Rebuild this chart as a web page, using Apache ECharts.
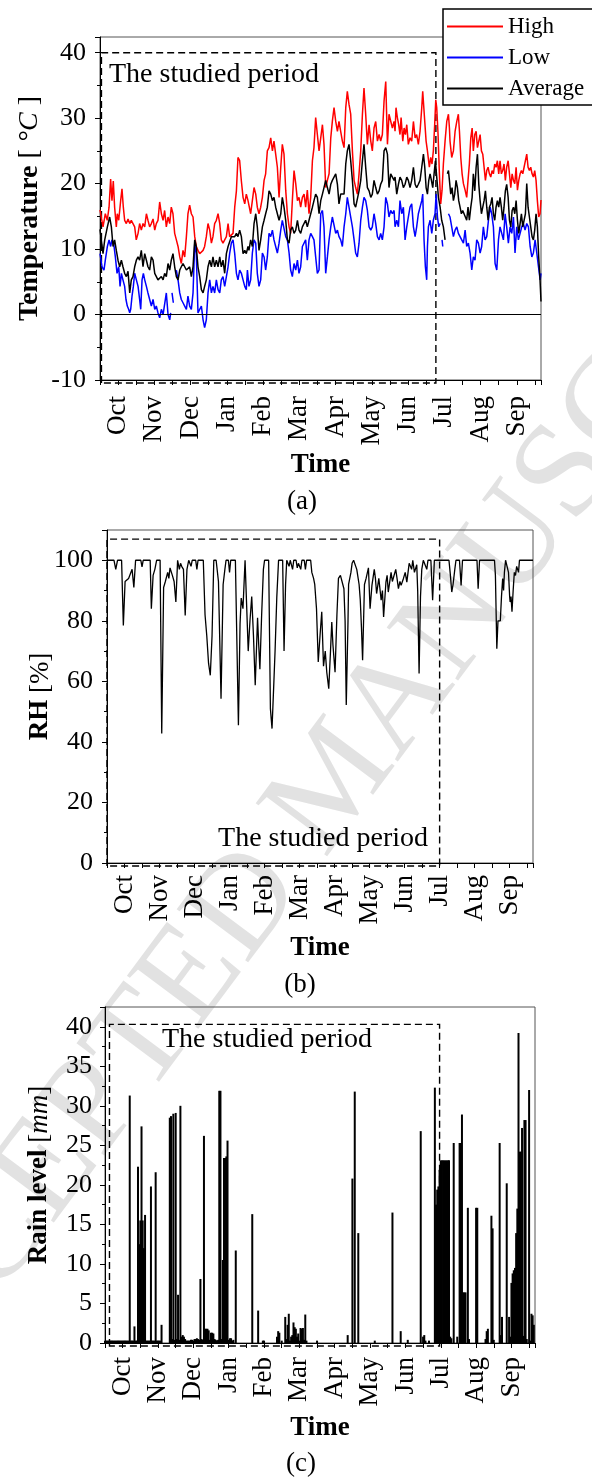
<!DOCTYPE html>
<html>
<head>
<meta charset="utf-8">
<script src="https://cdn.jsdelivr.net/npm/echarts/dist/echarts.min.js"></script>
<style>
html,body{margin:0;padding:0;background:#fff;}
#chart{width:592px;height:1478px;}
</style>
</head>
<body>
<div id="chart"></div>
<script>
// Month labels, placed mid-month on a day-of-year axis starting 1 October
const months = ['Oct','Nov','Dec','Jan','Feb','Mar','Apr','May','Jun','Jul','Aug','Sep'];

// Daily high temperature [day, °C]
const highTemp = [[0,16],[0.6,15.9],[2.5,13.4],[4.4,15.4],[6,14.4],[7.5,16.4],[8.8,20.7],[9.9,17.4],[11,20.4],[12.1,16.4],[13.5,13.4],[14.3,15.4],[15.5,14.4],[17.1,17.4],[18.2,19.2],[19.3,16.4],[20.4,14.4],[21.8,13.9],[23.2,14.6],[24.6,13.9],[25.9,14.4],[27.3,14.1],[28.7,13.4],[30,11.4],[31.5,12.4],[32.8,13.9],[34.2,12.9],[35.6,13.9],[37,13.4],[38.4,15.4],[39.7,14.4],[41.1,13.4],[42.5,13.9],[43.9,14.6],[45.3,12.9],[46.6,13.9],[48,14.4],[49.4,17.2],[50.8,15.4],[52.2,14.4],[53.5,15.9],[54.9,13.4],[56.3,14.9],[57.7,13.9],[59,16.4],[60.4,15.4],[61.8,12.4],[63.2,11.4],[64.6,10.4],[66,8.8],[67.3,7.8],[68.7,9.8],[70.1,8.8],[71.5,11.9],[72.8,15.4],[74.2,16.7],[75.6,15.4],[77,14.9],[78.4,11.9],[79.7,10.4],[81.1,9.8],[82.5,9.3],[83.9,9.3],[85.3,9.8],[86.6,10.4],[88,11.9],[89.4,13.9],[90.8,12.9],[92.2,10.9],[93.5,11.9],[94.9,13.9],[96.3,14.4],[97.7,15.4],[99.1,13.9],[100.4,11.4],[101.8,10.9],[103.2,10.9],[104.6,11.9],[106,13.9],[107.3,11.9],[108.7,11.9],[110.1,12.4],[111.5,16.4],[112.9,18.9],[114.2,24],[115.6,23.5],[117,20.4],[118.4,17.9],[119.8,16.9],[121.1,18.4],[122.5,17.4],
[123.3,17.4],[124.7,15.4],[126.1,17.4],[127.5,19.4],[128.9,18.4],[130.2,16.4],[131.6,15.4],[133,16.4],[134.4,17.9],[135.8,20.5],[137.1,21.5],[138.5,25],[139.9,25.5],[141.3,27],[142.7,25],[144,26.5],[145.4,24.5],[146.8,22.5],[148.2,17.9],[149.6,22.5],[150.9,26],[152.3,24.5],[153.7,19],[155.1,15.4],[156.5,13.4],[157.8,12.4],[159.2,17.4],[160.6,22],[162,20],[163.4,17.4],[164.7,17.9],[166.1,16.4],[167.5,17.9],[168.9,18.4],[170.2,16.4],[171.6,19],[173,15.4],[174.4,17.9],[175.8,23.5],[177.1,25.5],[178.5,30.1],[179.9,27.5],[181.3,25],[182.7,27],[184.1,29],[185.4,26],[186.8,19.4],[188.2,20.5],[189.6,21.5],[191,27],[192.3,29.5],[193.7,31.6],[195.1,29.5],[196.5,28],[197.8,29.5],[199.2,28],[200.6,26.5],[202,25.5],[203.4,31.6],[204.7,34.1],[206.1,32.1],[207.5,30.6],[208.9,25],[210.3,20.5],[211.6,19.4],[213,18.4],[214.4,21.5],[215.8,25],[217.2,30.6],[218.5,34.6],[219.9,30.6],[221.3,26],[222.7,29],[224.1,26.5],[225.4,25],[226.8,28.5],[228.2,29.5],[229.6,26.5],[231,27.5],[232.3,26.5],[233.7,27.5],[235.1,32.6],[236.5,35.6],[237.9,26],[239.2,30.6],[240.6,30.6],[242,28.5],[243.4,29.5],
[244.2,28],[245,31.6],[246.1,30.1],[247.2,29],[248.3,27.5],[249.2,30.1],[250.6,26.5],[251.7,28.5],[252.8,27.5],[253.9,29],[255.2,26],[256.6,27],[258,26.5],[259.4,29.5],[260.8,27],[262.1,27.5],[263.5,26],[264.9,28],[266.3,31.6],[267.1,34.1],[268.2,31.1],[269.9,26.5],[271,25],[272.6,22.5],[273.7,24],[274.8,23],[275.9,25],[277,29],[277.9,32.8],[278.7,31.6],[279.8,27.5],[280.9,21.5],[282,16.9],[283.1,19],[284.2,23],[285.6,26.5],[287,29.5],[288.4,30.6],[289.2,28.5],[289.7,26.5],[291.1,24],[292.5,25],[293.9,28],[295.3,29.5],[296.6,30.6],[297.5,28],[298.6,24],[299.7,21.5],[300.8,20],[302.2,19],[303.5,17.9],[304.6,20.5],[305.7,23],[306.9,27],[308,28.5],[309,25],[310.2,27.5],[311.3,28],[312.4,25.5],[313.5,26.5],[314.6,27.5],[315.7,25],[316.8,24.5],[317.9,22.5],[319,20.5],[320.1,22],[321.2,22.5],[322.3,21.5],[323.4,21],[324.5,22],[325.6,21.5],[326.7,23],[327.8,22.5],[328.9,23.5],[330,21.5],[331.1,23.5],[332.2,21.5],[333.3,22],[334.4,23],[335.5,20.5],[336.6,22.5],[337.8,23.5],[338.9,21.5],[340,19.4],[341.1,21.5],[342.2,20.5],[343.3,20],[344.4,22.5],[345.5,19],[346.6,20.5],[347.7,21.5],[348.8,22],[349.9,21.5],[351,22.5],[352.1,23.5],[353.2,24.5],[354.3,22.5],[355.4,22],[356.5,22.5],[357.6,21.5],[358.7,21],[359.8,22],[360.9,20.5],[362,17.4],[363.1,14.9],[364.2,15.4],[365,17.5]];

// Daily low temperature [day, °C]; null marks missing records
const lowTemp = [[0,9.3],[1.7,7.3],[3.3,6.8],[4.4,8.3],[6.1,10.4],[7.5,11.4],[8.8,10.4],[9.9,11.4],[11.3,10.9],[12.7,8.8],[14.1,6.3],[15.5,7.3],[16.6,4.3],[17.7,6.3],[19,5.3],[20.4,4.3],[21.5,2.3],[22.6,1.3],[23.7,0.8],[24.6,0.25],[25.4,0.8],[26.5,2.8],[27.6,4.3],[28.7,6.3],[30.1,5.3],[31.5,4.3],[32.8,2.3],[33.7,0.8],[34.8,5.3],[35.9,6.3],[37,5.3],[38.4,4.3],[39.7,3.3],[41.1,2.3],[42.5,1.3],[43.9,2.3],[45.3,0.8],[46.6,1.3],[48,0.25],[49.4,-0.5],[50.8,0.8],[52.2,0],[53.5,0.25],[54.9,3.3],[56.3,0],[57.7,-0.8],[58.5,0.25],[59,null],[59.6,3.3],[60.7,1.8],[62,null],[63.2,6.8],[64.6,5.3],[66,3.3],[67.3,2.3],[68.7,1.8],[70.1,1.3],[71.5,0.8],[72.8,2.8],[74.2,1.3],[75.6,0.8],[77,3.3],[78.4,10.9],[79.7,9.3],[81.1,0.25],[82.5,0],[83.9,1.3],[85.3,-0.8],[86.6,-2],[88,-0.8],[89.4,3.3],[90.8,5.3],[92.2,3.3],[93.5,4.3],[94.9,3.3],[96.3,5.3],[97.7,3.8],[99.1,3.3],[100.4,5.3],[101.8,5.8],[103.2,4.3],[104.6,5.8],[106,7.3],[107.3,9.3],[108.7,10.9],[110.1,11.4],[111.5,9.3],[112.9,6.3],[114.2,5.3],[115.6,6.8],[117,6.3],[118.4,5.3],[119.8,4.3],[121.1,3.8],
[122,6.8],[123.3,4.3],[124.7,5.3],[126.1,9.4],[127.5,11.4],[128.9,10.9],[130.2,6.3],[131.6,4.3],[133,5.3],[134.4,9.4],[135.8,8.8],[137.1,6.8],[138.5,8.8],[139.9,12.4],[141.3,11.9],[142.7,12.9],[144,11.4],[145.4,10.4],[146.8,9.4],[148.2,10.9],[149.6,12.9],[150.9,14.4],[152.3,14.4],[153.7,11.9],[155.1,11.4],[156.5,9.4],[157.8,6.8],[159.2,5.8],[160.6,7.8],[162,6.8],[163.4,8.3],[164.7,6.3],[166.1,7.3],[167.5,10.4],[168.9,10.4],[170.2,11.4],[171.6,8.3],[173,11.4],[174.4,12.4],[175.8,11.9],[177.1,11.4],[178.5,8.8],[179.9,6.3],[181.3,6.8],[182.7,15.4],[184.1,15.9],[185.4,13.4],[186.8,6.3],[188.2,8.8],[189.6,11.4],[191,13.4],[192.3,14.9],[193.7,14.9],[195.1,12.4],[196.5,12.9],[197.8,11.9],[199.2,11.4],[200.6,10.4],[202,13.4],[203.4,15.4],[204.7,17.9],[206.1,17.9],[207.5,14.9],[208.9,13.4],[210.3,11.4],[211.6,9.4],[213,8.8],[214.4,10.9],[215.8,14.4],[217.2,16.4],[218.5,17.9],[219.9,17.4],[221.3,15.9],[222.7,13.4],[224.1,12.9],[225.4,13.4],[226.8,15.4],[228.2,13.9],[229.6,11.9],[231,11.4],[232.3,12.4],[233.7,11.4],[235.1,13.4],[236.5,17.9],[237.9,16.9],[239.2,14.9],[240.6,15.9],[242,15.4],[243.4,15.9],
[244.2,13.4],[245.6,14.4],[247,13.4],[248.3,17.4],[249.7,15.4],[251.1,16.4],[252.5,11.4],[253.9,13.4],[255.2,14.9],[256.6,16.4],[258,16.9],[259.4,13.4],[260.8,11.9],[262.1,13.4],[263.5,15.4],[264.9,16.4],[266.3,17.4],[267.1,18.4],[268.2,11.4],[269.3,7.3],[270.4,5.3],[271,10.4],[271.8,13.4],[273.2,14.4],[274.6,12.4],[275.9,14.4],[277.3,15.4],[278.2,18.4],[279.3,14.9],[280.4,13.4],[281.5,13.9],[282.3,null],[283.1,11.4],[283.7,10.4],[285,null],[288.4,15.4],[289.7,14.9],[291.1,13.4],[292.5,11.9],[293.9,12.9],[295.3,13.4],[296.6,12.4],[298,11.9],[299.4,11.4],[300.8,10.9],[302.2,12.9],[303.5,10.4],[304.9,10.9],[306.3,9.4],[307.7,6.8],[309,8.8],[310.4,8.3],[311.8,11.4],[313.2,10.9],[314.6,9.4],[315.9,10.4],[317.3,13.4],[318.7,11.4],[320.1,11.9],[321.5,14.4],[322.9,16.4],[324.2,15.4],[325.6,13.4],[327,7.8],[328.4,6.8],[329.8,11.4],[331.1,13.4],[332.5,12.4],[333.9,11.4],[335.3,15.4],[336.6,13.4],[338,10.9],[339.4,13.4],[340.8,12.4],[342.2,14.9],[343.5,9.4],[344.9,13.4],[346.3,11.4],[347.7,12.4],[349.1,13.4],[350.4,13.9],[351.8,12.9],[353.2,13.9],[354.6,13.4],[356,10.4],[357.4,8.8],[358.7,9.4],[360.1,11.4],[361.5,9.4],[362.9,7.3],[364.3,5.3],[365,6.3]];

// Daily average temperature [day, °C]
const avgTemp = [[0,13],[2.5,9.3],[3.9,11.4],[6.1,13.4],[8,14.9],[9.4,13.4],[10.8,10.4],[12.1,11.4],[13.5,9.8],[14.9,8.3],[16.3,7.3],[17.7,8.3],[19,7.3],[20.4,6.3],[21.8,5.8],[23.2,6.6],[24.6,3.3],[25.9,5.3],[27.3,5.8],[28.7,7.3],[30.1,8.3],[31.5,8.8],[32.8,8.3],[34.2,9.8],[35.6,7.3],[37,9.3],[38.4,8.3],[39.7,7.3],[41.1,6.8],[42.5,8.8],[43.9,8.3],[45.3,6.3],[46.6,6.3],[48,5.3],[49.4,5.3],[50.8,5.8],[52.2,5.3],[53.5,6.3],[54.9,5.8],[56.3,7.8],[57.7,6.8],[59,8.3],[60.4,9.3],[61.8,7.3],[63.2,5.8],[64.6,5.3],[66,6.8],[67.3,7.3],[68.7,7.8],[70.1,7.8],[71.5,6.8],[72.8,6.8],[74.2,7.3],[75.6,5.8],[77,7.3],[78.4,11.4],[79.7,10.4],[81.1,7.3],[82.5,5.8],[83.9,3.8],[85.3,3.3],[86.6,4.3],[88,5.3],[89.4,7.3],[90.8,8.3],[92.2,7.3],[93.5,8.8],[94.9,7.3],[96.3,8.3],[97.7,7.3],[99.1,8.8],[100.4,7.3],[101.8,8.3],[103.2,6.3],[104.6,9.3],[106,10.4],[107.3,10.4],[108.7,11.9],[110.1,11.9],[111.5,11.9],[112.9,12.4],[114.2,11.9],[115.6,12.9],[117,11.9],[118.4,9.3],[119.8,9.8],[121.1,9.3],[122.5,10.4],
[123.3,9.8],[124.7,11.4],[126.1,10.4],[127.5,13.9],[128.9,15.4],[130.2,13.4],[131.6,9.8],[133,11.4],[134.4,13.4],[135.8,14.4],[137.1,15.4],[138.5,16.4],[139.9,18.9],[141.3,18.4],[142.7,17.4],[144,17.9],[145.4,16.4],[146.8,15.4],[148.2,14.4],[149.6,15.4],[150.9,17.9],[152.3,16.4],[153.7,14.4],[155.1,11.4],[156.5,10.9],[157.8,12.9],[159.2,13.4],[160.6,12.4],[162,12.9],[163.4,14.4],[164.7,12.9],[166.1,12.4],[167.5,13.4],[168.9,13.4],[170.2,14.4],[171.6,13.4],[173,14.4],[174.4,15.4],[175.8,16.4],[177.1,17.4],[178.5,18.4],[179.9,17.9],[181.3,15.4],[182.7,17.4],[184.1,18.4],[185.4,19.4],[186.8,20.5],[188.2,19.4],[189.6,18.4],[191,19.9],[192.3,20.5],[193.7,21],[195.1,21.5],[196.5,19.9],[197.8,16.9],[199.2,18.4],[200.6,18.4],[202,18.4],[203.4,23],[204.7,25],[206.1,26],[207.5,23.5],[208.9,20.5],[210.3,16.9],[211.6,16.4],[213,16.4],[214.4,18.9],[215.8,20.5],[217.2,23.5],[218.5,26],[219.9,22.5],[221.3,19.4],[222.7,18.9],[224.1,17.9],[225.4,18.4],[226.8,20.5],[228.2,19.4],[229.6,18.4],[231,18.9],[232.3,19.9],[233.7,20.5],[235.1,25],[236.5,25.5],[237.9,24.5],[239.2,19.4],[240.6,21.5],[242,21],[243.4,20.5],
[244.2,21],[245.6,18.4],[247,19.9],[248.3,21],[249.7,20.5],[251.1,19.4],[252.5,19.9],[253.9,21],[255.2,20.5],[256.6,19.4],[258,20.5],[259.4,22.5],[260.8,19.9],[262.1,19.4],[263.5,19.9],[264.9,20.5],[266.3,22.5],[267.7,24.5],[268.8,22.5],[269.9,19.4],[271,18.4],[272.1,20.5],[273.2,21.5],[274.3,20.5],[275.4,19.4],[276.5,21.5],[277.6,23.5],[278.7,21],[280.1,17.9],[281.5,16.4],[282.8,14.4],[284.2,13.4],[285.6,11.4],[286.5,null],[287.5,21.5],[288.4,22],[289.2,20.5],[290.3,18.4],[291.4,19.4],[292.5,17.4],[293.6,18.4],[294.7,20.5],[295.8,19.4],[296.9,17.4],[298,16.4],[299.1,15.4],[300.2,15.9],[301.3,15.4],[302.4,14.9],[303.5,14.4],[304.6,16.4],[305.7,14.4],[306.9,16.4],[308,17.9],[309,21.5],[310.2,18.9],[311.3,22.5],[312.4,24.5],[313.5,19.9],[314.6,17.4],[315.7,15.4],[316.8,16.4],[317.9,17.4],[319,18.9],[320.1,16.4],[321.2,14.4],[322.3,16.4],[323.4,16.9],[324.5,17.9],[325.6,15.4],[326.7,14.4],[327.8,16.4],[328.9,17.4],[330,16.4],[331.1,17.9],[332.2,16.4],[333.3,14.4],[334.4,16.4],[335.5,18.9],[336.6,19.9],[337.8,17.9],[338.9,14.4],[340,13.4],[341.1,15.9],[342.2,16.4],[343.3,15.4],[344.4,17.4],[345.5,14.4],[346.6,12.4],[347.7,13.9],[348.8,15.4],[349.9,13.4],[351,13.4],[352.1,15.4],[353.2,20],[354.3,16.4],[355.4,14.9],[356.5,13.4],[357.6,11.9],[358.7,11.4],[359.8,12.9],[360.9,15.4],[362,13.4],[363.1,8.8],[364.2,5.3],[365,2]];

// Daily relative humidity [day, %]
const relHumidity = [[0,100],[6,100],[7.5,97],[9,100],[12.5,100],[14,78.5],[15.5,93],[17,92.5],[18.5,94],[20,93.5],[21.5,97],[23,91],[24.5,100],[29,100],[30,97.8],[31,100],[37,100],[38,84],[39.5,95],[41,97],[42.5,100],[45.5,100],[46.9,42.8],[48.5,91],[50,93],[52,96],[53,94],[54,97.5],[56,95],[57.5,93],[59,86.2],[60.5,100],[62,97],[63,99],[64,98],[65.5,97],[67,81.8],[68.5,97],[70,100],[72,98],[73,100],[76,100],[77,97],[78,100],[82.5,100],[84,82],[85.5,75],[87,66],[88.5,62],[90,75],[91.5,100],[93.5,100],[95.5,93],[97.7,54.3],[99.5,92],[101,97],[102,100],[104,100],[105,96],[106,100],[110,100],[112.6,45.5],[114,79],[115,87.5],[116.5,84],[118.3,100],[119.5,100],[121,70],[122.5,80],[124,88],[125.5,75],[127,58.7],[129,81],[130,72],[131,64],[132.5,82],[134,97],[135,100],[138.5,100],[140,51],[141.4,44.4],[143,60],[144,70],[145.5,88],[147,100],[150.5,100],[151.7,70],[153,92],[154,100],[156,98],[157,100],[159,97],[160,100],[162,100],[163,97.5],[164,99],[166,97],[167,100],[169,100],[170,97],[171,100],[174.5,100],[175.5,96],[177,94],[178,92],[179.5,84],[181,66.4],[182.5,75],[184,83],[185.5,65],[187,70],[188.3,63],[190,57.6],[191.5,70],[192.6,79.6],[193.6,72],[195.4,63],[197,82],[198.3,94],[200,95],[201,94.5],[203,90.6],[204,80],[205,52.2],[206.5,80],[207,92],[209,96],[210,99],[211.3,100],[213,100],[214,97],[216,92],[217,87],[218,78],[219,67],[220.6,92],[222,94],[224,97.5],[225.4,84],[227,91.7],[229,97],[230,94],[231,89],[232.9,94],[234.9,86.8],[236,90],[237,81.3],[239,92.8],[240,95],[241,89.5],[243.4,96],[244.5,93],[245.4,92.8],[247.4,97],[248.5,94],[249.7,90.6],[251,93],[252,91.7],[254,94],[255.5,96],[256.9,92.8],[258.9,99],[261,97],[262,100],[263.4,96],[265.4,98.5],[266.2,90],[267.4,62.6],[268.6,88],[269.7,97],[271,100],[272,100],[274,97],[275,100],[277.5,100],[279,86.8],[280.5,100],[293,100],[294,96],[295.4,89.5],[296.5,92],[298,97],[299,100],[302,100],[303.4,91.7],[304.6,100],[317,100],[318,90.6],[319.2,100],[332,100],[332.8,95],[334,70.8],[335,80],[337,80],[338,88],[339,94],[339.8,90],[340.5,96],[341.5,100],[343,100],[344,96],[345,88],[345.4,86.2],[346.2,88],[347,83],[348,90],[349,96],[350,95],[351,98],[352.6,96],[353.4,100],[365,100]];

// Daily rain level [day, mm]
const rainLevel = [[0,0.3],[1,0.3],[2,0.3],[3,0.3],[4,0.3],[5,0.3],[6,0.3],[7,0.3],[8,0.3],[9,0.3],[10,0.3],[11,0.3],[12,0.3],[13,0.3],[14,0.3],[15,0.3],[16,0.3],[17,0.3],[18,0.3],[19,0.3],[20,0.3],[21,31.3],[22,0.3],[23,0.3],[24,0.3],[25,2.1],[26,0.3],[27,0.3],[28,22.3],[29,12.5],[30,15.5],[31,27.4],[32,15.5],[33,12],[34,16.2],[35,0.3],[36,0.3],[37,0.3],[38,0.3],[39,19.8],[40,0.3],[41,0.3],[42,0.3],[43,21.6],[44,0.3],[45,0.3],[46,0.3],[47,0.3],[48,2.3],[55,28.5],[56,28.7],[57,0.5],[58,29],[59,0.4],[60,29.1],[61,0.5],[62,6.1],[63,0.4],[64,30],[65,0.8],[66,1],[67,0.8],[68,0.5],[69,0.3],[70,0.3],[71,0.3],[72,0.3],[73,0.4],[74,0.4],[75,0.3],[76,0.5],[77,0.5],[78,0.6],[79,0.5],[80,0.4],[81,8.1],[82,0.5],[83,0.4],[84,26.2],[85,1.8],[86,1.8],[87,1.8],[88,1.6],[89,0.4],[90,1.3],[91,1.3],[92,1.2],[93,0.5],[94,0.4],[95,0.3],[96,0.4],[97,31.9],[98,31.9],[99,0.5],[100,10.5],[101,23.4],[102,23.4],[103,23.6],[104,25.6],[105,0.4],[106,0.6],[107,0.6],[108,0.3],[109,0.4],[111,11.7],[125,16.3],[130,4.1],[134,0.3],[135,0.3],[146,0.8],[147,1.5],[148,1.3],[150,0.3],[153,3.3],[154,0.5],[155,2.3],[156,3.7],[157,0.3],[158,0.8],[159,1],[160,2.6],[161,2],[162,1.8],[163,0.8],[164,1.2],[165,0.3],[166,1.9],[167,1.8],[168,1.9],[169,0.4],[170,3.6],[171,0.3],[180,0.3],[206,1],[210,20.8],[212,31.8],[215,13.9],[229,0.3],[244,16.5],[251,1.5],[257,0.4],[268,26.8],[270,0.8],[271,1],[272,0.3],[275,0.3],[280,32.3],[281,17.5],[282,19.4],[283,19.8],[284,21.9],[285,23.1],[286,23.1],[287,23.1],[288,23.1],[289,23.1],[290,23.1],[291,23.1],[292,23.1],[293,0.8],[294,0.6],[296,25.3],[299,0.8],[301,25.3],[302,25.3],[303,28.9],[304,6.4],[305,6.4],[306,6.4],[308,17.1],[309,0.5],[315,17.1],[316,17.1],[323,0.5],[324,1.5],[325,1.8],[328,16.1],[329,14.5],[330,0.4],[335,25.3],[336,1],[337,3.3],[341,20.2],[343,3.3],[344,0.8],[345,7.6],[346,8.8],[347,9.2],[348,9.5],[349,13.9],[350,17],[351,39.2],[352,24.2],[353,24.2],[354,27.2],[355,0.9],[356,28.2],[357,28.2],[358,0.5],[360,32],[361,0.3],[362,3.7],[363,3.5],[364,2.3]];

// Studied period boxes per panel: [start day, end day, top value]
const studiedPeriod = [[1.2, 278, 40], [0, 285, 107], [3.8, 284, 40.3]];

const FONT = '"Liberation Serif", "Times New Roman", serif';
const BLACK = '#000';

function xAxisFor(gridIndex, labelMargin) {
  return {
    type: 'value', gridIndex, min: 0, max: 365, interval: 15,
    axisLine: { show: true, onZero: false, lineStyle: { color: BLACK, width: 1 } },
    axisTick: { show: true, length: 5, lineStyle: { color: BLACK, width: 1 } },
    axisLabel: {
      rotate: 90, margin: labelMargin, fontFamily: FONT, fontSize: 27, color: BLACK,
      formatter: v => (v % 30 === 15 ? months[(v - 15) / 30] : '')
    },
    splitLine: { show: false },
    name: 'Time', nameLocation: 'middle', nameGap: 72,
    nameTextStyle: { fontFamily: FONT, fontSize: 27, fontWeight: 'bold', color: BLACK }
  };
}

function yAxisFor(gridIndex, min, max, interval, name, nameGap, labelMargin, nameSize) {
  const base = { fontFamily: FONT, fontSize: nameSize, color: BLACK };
  return {
    type: 'value', gridIndex, min, max, interval,
    axisLine: { show: true, onZero: false, lineStyle: { color: BLACK, width: 1 } },
    axisTick: { show: true, length: 5, lineStyle: { color: BLACK, width: 1 } },
    minorTick: { show: true, splitNumber: 2, length: 3, lineStyle: { color: BLACK, width: 1 } },
    axisLabel: {
      margin: labelMargin, fontFamily: FONT, fontSize: 26, color: BLACK,
      formatter: v => (Math.abs(v % interval) < 1e-9 ? String(v) : '')
    },
    splitLine: { show: false },
    minorSplitLine: { show: false },
    name, nameLocation: 'middle', nameGap, nameRotate: 90, nameMoveOverlap: false,
    nameTextStyle: Object.assign({}, base, {
      rich: {
        b: Object.assign({}, base, { fontWeight: 'bold' }),
        n: Object.assign({}, base),
        i: Object.assign({}, base, { fontStyle: 'italic' })
      }
    })
  };
}

const gridStyle = { show: true, borderColor: '#555', borderWidth: 1, backgroundColor: 'transparent' };

const option = {
  animation: false,
  backgroundColor: '#fff',
  grid: [
    Object.assign({ left: 100, top: 37, width: 441, height: 343 }, gridStyle),
    Object.assign({ left: 107, top: 530, width: 426, height: 333 }, gridStyle),
    Object.assign({ left: 105, top: 1007, width: 430, height: 336 }, gridStyle)
  ],
  xAxis: [xAxisFor(0, 16), xAxisFor(1, 12), xAxisFor(2, 14)],
  yAxis: [
    yAxisFor(0, -10, 42.4, 10, '{b|Temperature} {n|[ }{i|°C}{n| ]}', 56, 14, 28),
    yAxisFor(1, 0, 110, 20, '{b|RH} {n|[%]}', 53, 14, 27),
    yAxisFor(2, 0, 42.5, 5, '{b|Rain level} {n|[}{i|mm}{n|]}', 52, 13, 27)
  ],
  legend: {
    orient: 'vertical', left: 443, top: 9,
    data: ['High', 'Low', 'Average'],
    icon: 'rect', itemWidth: 56, itemHeight: 2, itemGap: 6,
    padding: [5, 12, 4, 4],
    borderColor: BLACK, borderWidth: 1.5, backgroundColor: '#fff',
    textStyle: { fontFamily: FONT, fontSize: 23, color: BLACK, lineHeight: 25 }
  },
  series: [
    {
      name: 'High', type: 'line', xAxisIndex: 0, yAxisIndex: 0, data: highTemp,
      symbol: 'none', lineStyle: { color: '#ff0000', width: 1.5 }, itemStyle: { color: '#ff0000' }
    },
    {
      name: 'Low', type: 'line', xAxisIndex: 0, yAxisIndex: 0, data: lowTemp,
      symbol: 'none', lineStyle: { color: '#0000ff', width: 1.5 }, itemStyle: { color: '#0000ff' }
    },
    {
      name: 'Average', type: 'line', xAxisIndex: 0, yAxisIndex: 0, data: avgTemp,
      symbol: 'none', lineStyle: { color: BLACK, width: 1.5 }, itemStyle: { color: BLACK },
      markLine: {
        silent: true, animation: false, symbol: ['none', 'none'], label: { show: false },
        lineStyle: { color: BLACK, width: 1, type: 'solid' },
        data: [{ yAxis: 0 }]
      }
    },
    {
      name: 'RH', type: 'line', xAxisIndex: 1, yAxisIndex: 1, data: relHumidity,
      symbol: 'none', lineStyle: { color: BLACK, width: 1.3 }, itemStyle: { color: BLACK }
    },
    {
      name: 'Rain', type: 'bar', xAxisIndex: 2, yAxisIndex: 2, data: rainLevel,
      barWidth: 2, itemStyle: { color: BLACK }
    }
  ]
};

const chart = echarts.init(document.getElementById('chart'), null, { renderer: 'canvas' });
chart.setOption(option);

// Dashed "studied period" frames, placed through each grid's own scales
const yMins = [-10, 0, 0];
const graphics = [];
studiedPeriod.forEach(([d0, d1, top], g) => {
  const pTopLeft = chart.convertToPixel({ gridIndex: g }, [d0, top]);
  const pBottomRight = chart.convertToPixel({ gridIndex: g }, [d1, yMins[g]]);
  const xl = pTopLeft[0], yt = pTopLeft[1], xr = pBottomRight[0], yb = pBottomRight[1] + 3;
  graphics.push({
    type: 'polygon', z: 3, silent: true,
    shape: { points: [[xl, yb], [xl, yt], [xr, yt], [xr, yb]] },
    style: { fill: null, stroke: BLACK, lineWidth: 1.4, lineDash: [7, 4] }
  });
});

const textItem = (text, x, y, align, size) => ({
  type: 'text', z: 3, silent: true, x, y,
  style: {
    text, font: size + 'px "Liberation Serif"', fill: BLACK,
    textAlign: align, textVerticalAlign: 'middle', align, verticalAlign: 'middle'
  }
});

graphics.push(textItem('The studied period', 109, 75, 'left', 28));
graphics.push(textItem('The studied period', 428, 839, 'right', 28));
graphics.push(textItem('The studied period', 162, 1040, 'left', 28));
graphics.push(textItem('(a)', 302, 502, 'center', 27));
graphics.push(textItem('(b)', 300, 985, 'center', 27));
graphics.push(textItem('(c)', 301, 1464, 'center', 27));

// Diagonal watermark behind the plots
graphics.push({
  type: 'text', z: -10, silent: true, x: 338, y: 782, rotation: 0.93,
  style: {
    text: 'ACCEPTED MANUSCRIPT', font: '136px "Liberation Serif"', fill: '#e2e2e2',
    textAlign: 'center', textVerticalAlign: 'middle', align: 'center', verticalAlign: 'middle'
  }
});

chart.setOption({ graphic: graphics });
</script>
</body>
</html>
